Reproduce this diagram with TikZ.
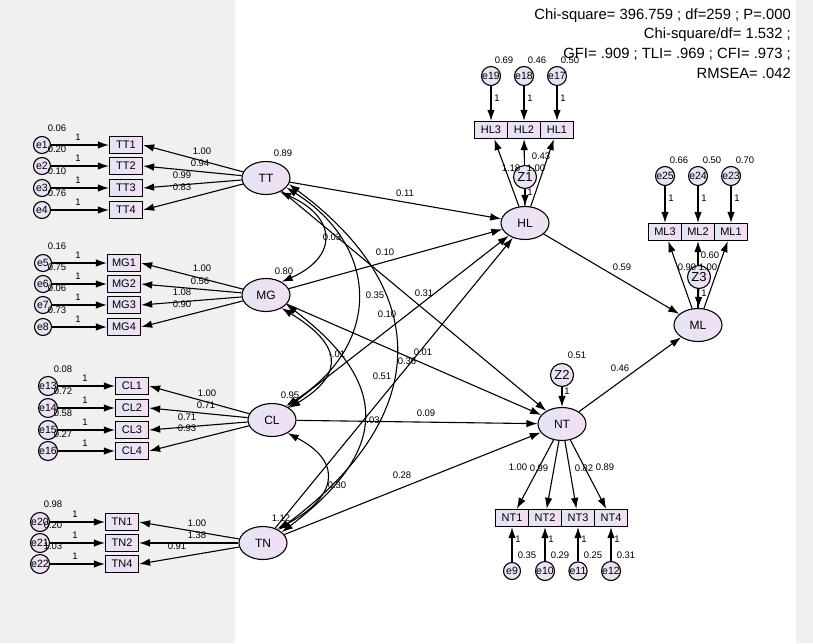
\documentclass[tikz,border=0pt]{standalone}
\usepackage{fontspec}
\setmainfont{Liberation Sans}
\usetikzlibrary{arrows.meta,shapes.geometric}
\pgfdeclarelayer{back}
\pgfdeclarelayer{bg}
\pgfsetlayers{back,bg,main}
\definecolor{lavL}{RGB}{228,229,245}
\definecolor{lavR}{RGB}{242,223,242}
\definecolor{panel}{RGB}{240,240,240}
\begin{document}
\begin{tikzpicture}[x=1pt,y=-1pt,
  lat/.style={ellipse,draw,line width=1.1pt,left color=lavL,right color=lavR,minimum width=48pt,minimum height=33pt,inner sep=0pt,font=\fontsize{12}{14}\selectfont},
  obs/.style={rectangle,draw,line width=1.3pt,left color=lavL,right color=lavR,minimum width=33pt,minimum height=17pt,inner sep=0pt,font=\fontsize{11}{13}\selectfont},
  err/.style={circle,draw,line width=1.1pt,left color=lavL,right color=lavR,minimum size=17pt,inner sep=0pt,font=\fontsize{10.5}{12}\selectfont},
  res/.style={circle,draw,line width=1.1pt,left color=lavL,right color=lavR,minimum size=23pt,inner sep=0pt,font=\fontsize{13}{15}\selectfont},
  lbl/.style={font=\fontsize{9.5}{11}\selectfont,inner sep=0pt},
  fit/.style={font=\fontsize{14.8}{18}\selectfont,inner sep=0pt,anchor=east},
  arr/.style={-{Latex[length=11pt,width=7.5pt]},line width=1.1pt},
  cov/.style={{Latex[length=11pt,width=7.5pt]}-{Latex[length=11pt,width=7.5pt]},line width=1.1pt},
]
\begin{pgfonlayer}{back}
\fill[white] (0,0) rectangle (813,643);
\fill[panel] (0,0) rectangle (235,643);
\fill[panel] (796,0) rectangle (813,643);
\end{pgfonlayer}
\useasboundingbox (0,0) rectangle (813,643);

% fit indices
\node[fit] (f1) at (791,16) {Chi-square= 396.759 ; df=259 ; P=.000};
\node[fit] (f2) at (791,35) {Chi-square/df= 1.532 ;};
\node[fit] (f3) at (791,54) {GFI= .909 ; TLI= .969 ; CFI= .973 ;};
\node[fit] (f4) at (791,73) {RMSEA= .042};

% latent variables
\node[lat] (TT) at (266,178) {TT};
\node[lat] (MG) at (266,295) {MG};
\node[lat] (CL) at (272,420) {CL};
\node[lat] (TN) at (263,543) {TN};
\node[lat] (HL) at (525,223) {HL};
\node[lat] (NT) at (562,424) {NT};
\node[lat] (ML) at (698,325) {ML};
\node[res] (Z1) at (525,177) {Z1};
\node[res] (Z2) at (562,375) {Z2};
\node[res] (Z3) at (699,277) {Z3};

\node[lbl] (vTT) at (283,153) {0.89};
\node[lbl] (vMG) at (284,271) {0.80};
\node[lbl] (vCL) at (290,395) {0.95};
\node[lbl] (vTN) at (281,518) {1.12};

% TT group
\foreach \i/\y/\v in {1/145/0.06,2/166/0.20,3/188/0.10,4/210/0.76}{
  \node[obs] (TT\i) at (126,\y) {TT\i};
  \node[err] (e\i) at (42,\y) {e\i};
  \node[lbl] (ve\i) at (57,\y-17) {\v};
  \node[lbl] (oe\i) at (78,\y-8) {1};
}
\node[lbl] (lT1) at (202,151) {1.00};
\node[lbl] (lT2) at (200,163) {0.94};
\node[lbl] (lT3) at (182,175) {0.99};
\node[lbl] (lT4) at (182,187) {0.83};

% MG group
\foreach \i/\j/\y/\v in {1/5/263/0.16,2/6/284/0.75,3/7/305/0.06,4/8/327/0.73}{
  \node[obs] (MG\i) at (124,\y) {MG\i};
  \node[err] (e\j) at (43,\y) {e\j};
  \node[lbl] (ve\j) at (57,\y-17) {\v};
  \node[lbl] (oe\j) at (78,\y-8) {1};
}
\node[lbl] (lM1) at (202,268) {1.00};
\node[lbl] (lM2) at (200,281) {0.56};
\node[lbl] (lM3) at (182,292) {1.08};
\node[lbl] (lM4) at (182,304) {0.90};

% CL group
\foreach \i/\j/\y/\v in {1/13/386/0.08,2/14/408/0.72,3/15/430/0.58,4/16/451/0.27}{
  \node[obs] (CL\i) at (132,\y) {CL\i};
  \node[err] (e\j) at (48,\y) {e\j};
  \node[lbl] (ve\j) at (63,\y-17) {\v};
  \node[lbl] (oe\j) at (85,\y-8) {1};
}
\node[lbl] (lC1) at (207,393) {1.00};
\node[lbl] (lC2) at (206,405) {0.71};
\node[lbl] (lC3) at (187,417) {0.71};
\node[lbl] (lC4) at (187,428) {0.93};

% TN group
\foreach \i/\j/\y/\v in {1/20/522/0.98,2/21/543/0.20,4/22/564/1.03}{
  \node[obs] (TN\i) at (122,\y) {TN\i};
  \node[err] (e\j) at (40,\y) {e\j};
  \node[lbl] (ve\j) at (53,\y-18) {\v};
  \node[lbl] (oe\j) at (75,\y-8) {1};
}
\node[lbl] (lN1) at (197,523) {1.00};
\node[lbl] (lN2) at (197,535) {1.38};
\node[lbl] (lN4) at (177,546) {0.91};

% HL group
\foreach \n/\j/\x/\v in {3/19/491/0.69,2/18/524/0.46,1/17/557/0.50}{
  \node[obs] (HL\n) at (\x,130) {HL\n};
  \node[err] (e\j) at (\x,76) {e\j};
  \node[lbl] (ve\j) at (\x+13,60) {\v};
  \node[lbl] (oe\j) at (\x+6,98) {1};
}
\node[lbl] (lH3) at (511,168) {1.18};
\node[lbl] (lH2) at (536,168) {1.00};
\node[lbl] (lH1) at (541,156) {0.43};
\node[lbl] (oZ1) at (530,192) {1};

% ML group
\foreach \n/\j/\x/\v in {3/25/665/0.66,2/24/698/0.50,1/23/731/0.70}{
  \node[obs] (ML\n) at (\x,232) {ML\n};
  \node[err] (e\j) at (\x,176) {e\j};
  \node[lbl] (ve\j) at (\x+14,160) {\v};
  \node[lbl] (oe\j) at (\x+6,198) {1};
}
\node[lbl] (lL3) at (687,267) {0.90};
\node[lbl] (lL2) at (708,267) {1.00};
\node[lbl] (lL1) at (710,255) {0.60};
\node[lbl] (oZ3) at (704,293) {1};

% NT group
\foreach \n/\j/\x/\v in {1/9/512/0.35,2/10/545/0.29,3/11/578/0.25,4/12/611/0.31}{
  \node[obs] (NT\n) at (\x,518) {NT\n};
  \node[err] (e\j) at (\x,571) {e\j};
  \node[lbl] (ve\j) at (\x+15,555) {\v};
  \node[lbl] (oe\j) at (\x+6,539) {1};
}
\node[lbl] (lD1) at (518,467) {1.00};
\node[lbl] (lD2) at (539,468) {0.99};
\node[lbl] (lD3) at (584,468) {0.82};
\node[lbl] (lD4) at (605,467) {0.89};
\node[lbl] (vZ2) at (577,355) {0.51};
\node[lbl] (oZ2) at (567,391) {1};

% structural labels
\node[lbl] (r1) at (405,193) {0.11};
\node[lbl] (r2) at (424,293) {0.31};
\node[lbl] (r3) at (385,252) {0.10};
\node[lbl] (r4) at (423,352) {0.01};
\node[lbl] (r5) at (387,314) {0.10};
\node[lbl] (r6) at (426,413) {0.09};
\node[lbl] (r7) at (382,376) {0.51};
\node[lbl] (r8) at (402,475) {0.28};
\node[lbl] (r9) at (622,267) {0.59};
\node[lbl] (r10) at (620,368) {0.46};
\node[lbl] (c1) at (332,237) {0.03};
\node[lbl] (c2) at (375,295) {0.35};
\node[lbl] (c3) at (407,361) {0.36};
\node[lbl] (c4) at (337,354) {-.01};
\node[lbl] (c5) at (373,420) {.03};
\node[lbl] (c6) at (337,485) {0.30};

\begin{pgfonlayer}{bg}
\foreach \i in {1,...,4}{\draw[arr] (e\i) -- (TT\i); \draw[arr] (TT) -- (TT\i.east);}
\foreach \i/\j in {1/5,2/6,3/7,4/8}{\draw[arr] (e\j) -- (MG\i); \draw[arr] (MG) -- (MG\i.east);}
\foreach \i/\j in {1/13,2/14,3/15,4/16}{\draw[arr] (e\j) -- (CL\i); \draw[arr] (CL) -- (CL\i.east);}
\foreach \i/\j in {1/20,2/21,4/22}{\draw[arr] (e\j) -- (TN\i); \draw[arr] (TN) -- (TN\i.east);}
\foreach \n/\j in {3/19,2/18,1/17}{\draw[arr] (e\j) -- (HL\n); \draw[arr] (HL) -- (HL\n);}
\foreach \n/\j in {3/25,2/24,1/23}{\draw[arr] (e\j) -- (ML\n); \draw[arr] (ML) -- (ML\n);}
\foreach \n/\j in {1/9,2/10,3/11,4/12}{\draw[arr] (e\j) -- (NT\n); \draw[arr] (NT) -- (NT\n);}
\draw[arr] (Z1) -- (HL);
\draw[arr] (Z2) -- (NT);
\draw[arr] (Z3) -- (ML);
% structural paths
\draw[arr] (TT) -- (HL);
\draw[arr] (TT) -- (NT);
\draw[arr] (MG) -- (HL);
\draw[arr] (MG) -- (NT);
\draw[arr] (CL) -- (HL);
\draw[arr] (CL) -- (NT);
\draw[arr] (TN) -- (HL);
\draw[arr] (TN) -- (NT);
\draw[arr] (HL) -- (ML);
\draw[arr] (NT) -- (ML);
% covariances
\draw[cov] (TT.-45) .. controls +(57,25) and +(57,-25) .. (MG.40);
\draw[cov] (TT.-25) .. controls +(95,60) and +(95,-60) .. (CL.45);
\draw[cov] (TT.-15) .. controls +(149,110) and +(149,-110) .. (TN.40);
\draw[cov] (MG.-40) .. controls +(58,35) and +(58,-35) .. (CL.35);
\draw[cov] (MG.-25) .. controls +(106,80) and +(106,-80) .. (TN.30);
\draw[cov] (CL.-40) .. controls +(58,30) and +(58,-30) .. (TN.45);
\end{pgfonlayer}
\end{tikzpicture}
\end{document}
